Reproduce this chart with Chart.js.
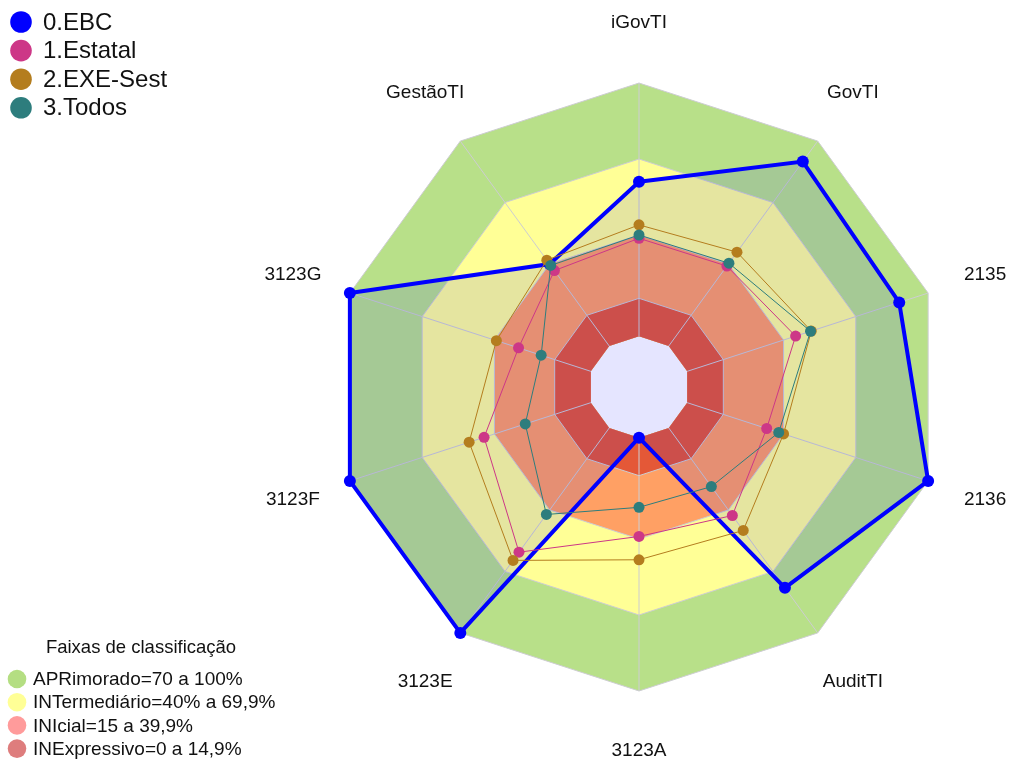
<!DOCTYPE html>
<html lang="pt">
<head>
<meta charset="utf-8">
<title>Faixas de classificação</title>
<script src="https://cdn.jsdelivr.net/npm/chart.js@4.4.1/dist/chart.umd.min.js"></script>
<style>
  html, body { margin: 0; padding: 0; background: #fff; }
  #wrap { width: 1009px; height: 763px; position: relative; }
</style>
</head>
<body>
<div id="wrap"><canvas id="radar"></canvas></div>
<script>
/**
 * @file radar med EBC mot Estatal, EXE-Sest och Todos, med klassificeringsband
 */

/** axlar, medurs från toppen */
const labels = ["iGovTI", "GovTI", "2135", "2136", "AuditTI", "3123A", "3123E", "3123F", "3123G", "GestãoTI"];

/** seriernas namn */
const serieNames = ["0.EBC", "1.Estatal", "2.EXE-Sest", "3.Todos"];

/** värden per serie */
const ebc = [61, 90, 88, 100, 78, 0, 100, 100, 100, 40];
const estatal = [38.7, 39, 45, 33, 42.7, 39, 60.6, 44.3, 30, 36.8];
const exeSest = [44, 45.8, 51.5, 40, 50, 48.2, 64.6, 50.5, 39.2, 41.9];
const todos = [40, 40.4, 51.2, 38, 28.6, 27.5, 42.2, 27.2, 20.6, 39.3];

/** övre gräns för varje klassificeringsband */
const faixaLevels = [100, 70, 40, 15];
const faixaNames = ["APRimorado=70 a 100%", "INTermediário=40% a 69,9%", "INIcial=15 a 39,9%", "INExpressivo=0 a 14,9%"];
const faixaTitle = "Faixas de classificação";

/** skalans gränser */
const axisMin = -20;
const axisMax = 100;

/** färger */
const serieColors = ["rgb(0,0,255)", "rgb(205,55,135)", "rgb(180,125,30)", "rgb(45,125,125)"];
const faixaColors = ["rgb(184,224,137)", "rgb(255,255,150)", "rgb(255,160,100)", "rgb(228,88,55)"];
const faixaLegendColors = ["rgb(180,222,130)", "rgb(255,255,150)", "rgb(255,155,155)", "rgb(222,125,125)"];
const gridColor = "rgb(205,205,210)";
const fontFamily = '"Liberation Sans", Arial, sans-serif';

const series = [ebc, estatal, exeSest, todos].map((values, i) => ({
    label: serieNames[i],
    data: values,
    order: 4 - i,
    borderColor: serieColors[i],
    backgroundColor: i === 0 ? "rgba(0,0,255,0.1)" : "transparent",
    fill: i === 0 ? "start" : false,
    borderWidth: i === 0 ? 4 : 1,
    pointRadius: i === 0 ? 6 : 5.5,
    pointBackgroundColor: serieColors[i],
    pointBorderColor: serieColors[i],
    pointBorderWidth: 0
}));

const bands = faixaLevels.map((level, i) => ({
    label: faixaNames[i],
    data: labels.map(() => level),
    order: 8 - i,
    fill: "origin",
    backgroundColor: faixaColors[i],
    borderColor: gridColor,
    borderWidth: 1,
    pointRadius: 0
}));

/** index för sista bandet, efter det ritas vinkellinjerna */
const lastBand = series.length + bands.length - 1;

/**
 * vinkellinjer från 0 till 100, ovanpå banden
 */
const angleLinesPlugin = {
    id: "angleLinesOnBands",
    afterDatasetDraw(chart, args) {
        if (args.index !== lastBand) return;
        const scale = chart.scales.r;
        const ctx = chart.ctx;
        ctx.save();
        ctx.strokeStyle = gridColor;
        ctx.lineWidth = 1;
        labels.forEach((l, i) => {
            const a = scale.getPointPositionForValue(i, 0);
            const b = scale.getPointPositionForValue(i, axisMax);
            ctx.beginPath();
            ctx.moveTo(a.x, a.y);
            ctx.lineTo(b.x, b.y);
            ctx.stroke();
        });
        ctx.restore();
    }
};

/**
 * axeltexter och de två förklaringarna
 */
const textPlugin = {
    id: "labelsAndLegends",
    afterDraw(chart) {
        const scale = chart.scales.r;
        const ctx = chart.ctx;
        ctx.save();
        ctx.fillStyle = "#111";
        ctx.textBaseline = "middle";

        // axeltexter centrerade på en cirkel utanför diagrammet
        ctx.textAlign = "center";
        ctx.font = "19px " + fontFamily;
        labels.forEach((l, i) => {
            const p = scale.getPointPosition(i, scale.drawingArea * 1.197);
            ctx.fillText(l, p.x, p.y);
        });

        // serieförklaring uppe till vänster
        ctx.textAlign = "left";
        ctx.font = "24px " + fontFamily;
        serieNames.forEach((name, i) => {
            const y = 22 + i * 28.6;
            ctx.fillStyle = serieColors[i];
            ctx.beginPath();
            ctx.arc(21, y, 10.8, 0, Math.PI * 2);
            ctx.fill();
            ctx.fillStyle = "#111";
            ctx.fillText(name, 43, y + 1);
        });

        // bandförklaring nere till vänster
        ctx.font = "18.5px " + fontFamily;
        ctx.textAlign = "center";
        ctx.fillText(faixaTitle, 141, 648);
        ctx.textAlign = "left";
        ctx.font = "19px " + fontFamily;
        faixaNames.forEach((name, i) => {
            const y = 679 + i * 23.2;
            ctx.fillStyle = faixaLegendColors[i];
            ctx.beginPath();
            ctx.arc(17, y, 9.3, 0, Math.PI * 2);
            ctx.fill();
            ctx.fillStyle = "#111";
            ctx.fillText(name, 33, y + 1);
        });
        ctx.restore();
    }
};

const radar = new Chart(document.getElementById("radar"), {
    type: "radar",
    data: {
        labels: labels,
        datasets: series.concat(bands)
    },
    options: {
        responsive: true,
        maintainAspectRatio: false,
        animation: false,
        events: [],
        layout: {
            padding: { left: 335, right: 66, top: 83, bottom: 72 }
        },
        plugins: {
            legend: { display: false },
            tooltip: { enabled: false }
        },
        scales: {
            r: {
                min: axisMin,
                max: axisMax,
                ticks: { display: false },
                grid: { display: false },
                angleLines: { display: false },
                pointLabels: { display: false }
            }
        }
    },
    plugins: [angleLinesPlugin, textPlugin]
});
</script>
</body>
</html>
